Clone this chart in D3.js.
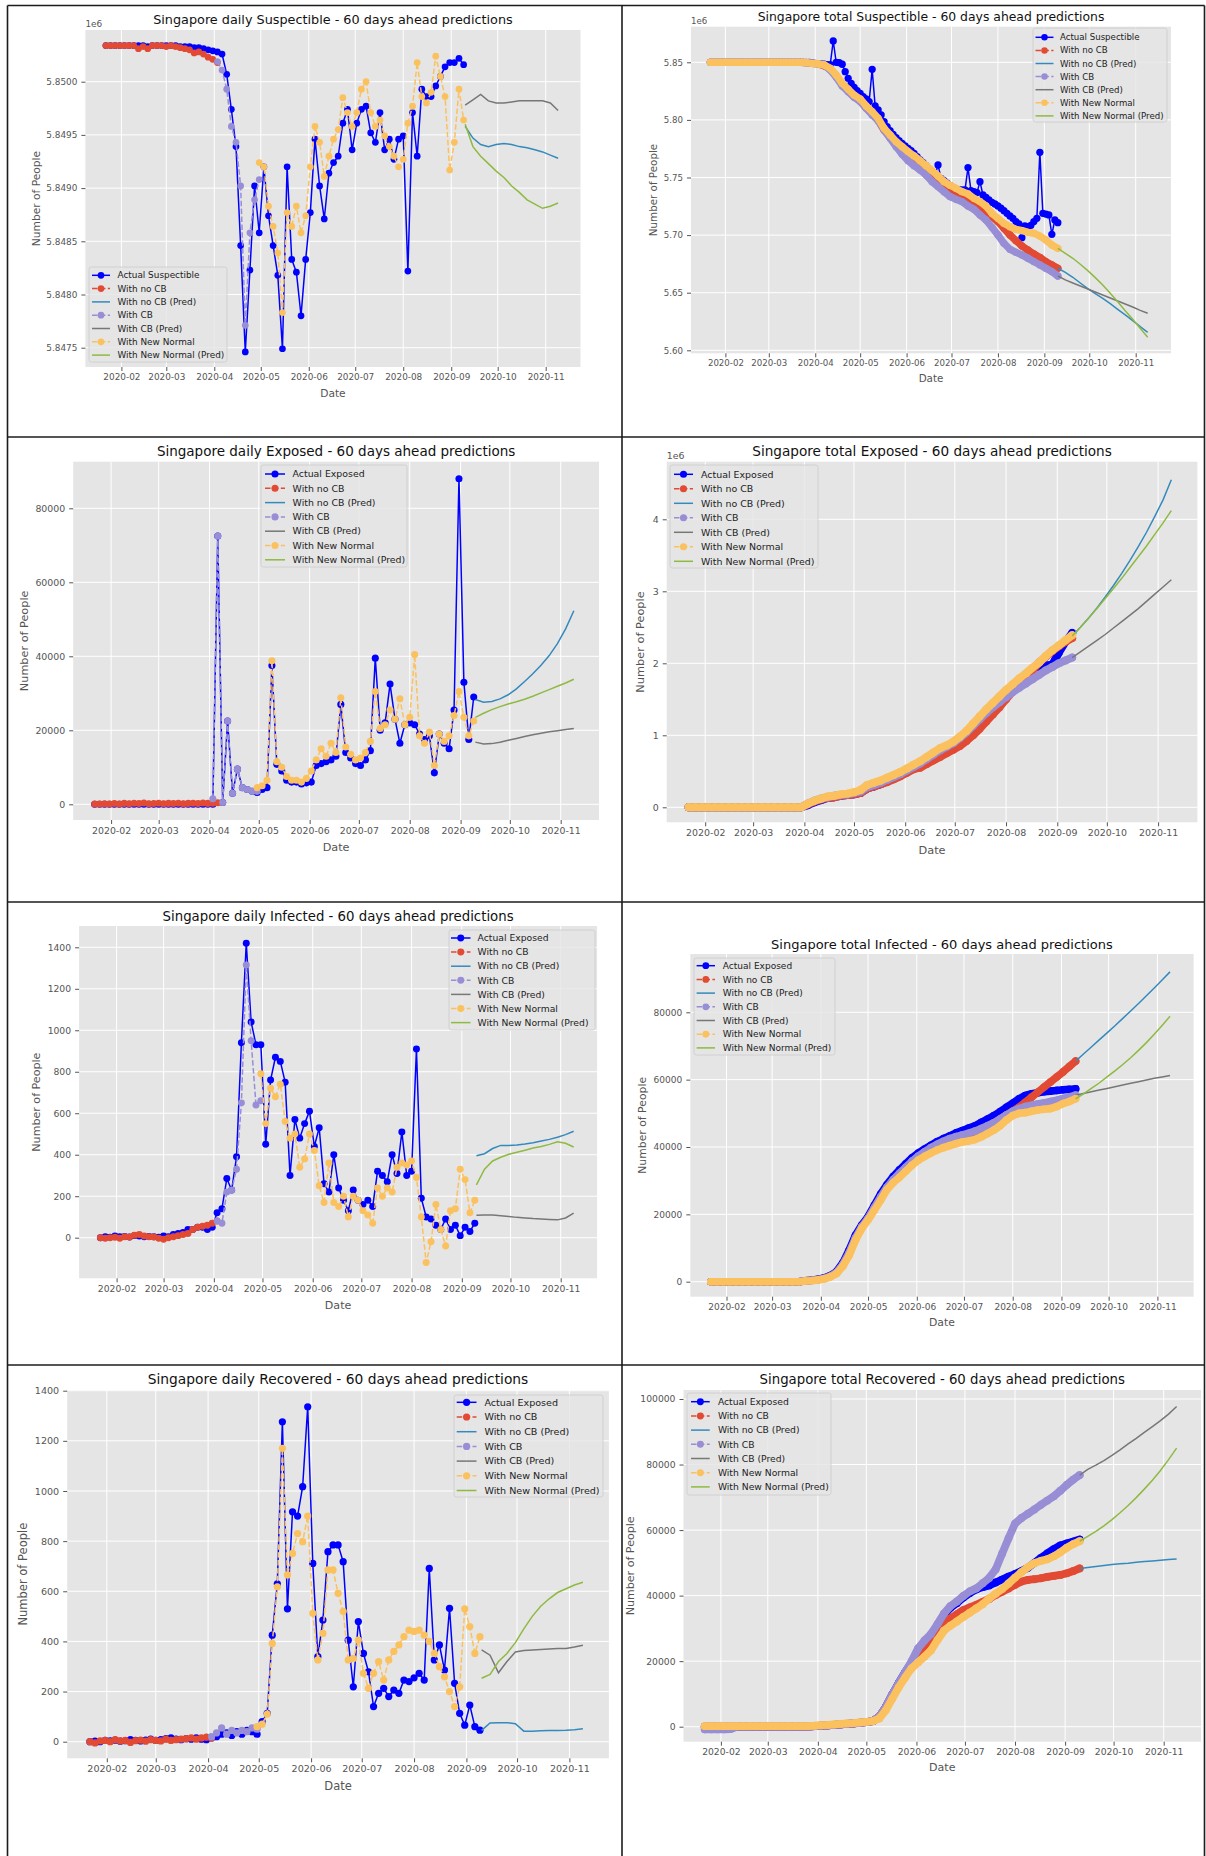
<!DOCTYPE html>
<html>
<head>
<meta charset="utf-8">
<script src="https://cdn.jsdelivr.net/npm/d3@7"></script>
<style>
  html, body { margin: 0; padding: 0; background: #ffffff; }
  svg { display: block; font-family: "DejaVu Sans", sans-serif; }
</style>
</head>
<body>
<svg id="fig" width="1206" height="1856"></svg>
<script>
// ---------- shared labels ----------
const monthTicks = ["2020-02","2020-03","2020-04","2020-05","2020-06","2020-07","2020-08","2020-09","2020-10","2020-11"];
const seriesNames = {
  noCB: "With no CB", noCBPred: "With no CB (Pred)",
  CB: "With CB", CBPred: "With CB (Pred)",
  NN: "With New Normal", NNPred: "With New Normal (Pred)"
};
// day 0 = 2020-01-22; fitted series every 2, 3 or 4 days, predictions every 5 days from 2020-09-10

// ---------- daily Suspectible (millions) ----------
const dailySusTicks = [5.8475, 5.8480, 5.8485, 5.8490, 5.8495, 5.8500];
const dailySusActual = [5.85034,5.85034,5.85034,5.85034,5.85034,5.85034,5.85034,5.85034,5.85034,5.85033,5.85034,5.85034,5.85034,5.85034,5.85034,5.85034,5.85033,5.85033,5.85033,5.85032,5.85032,5.85031,5.85030,5.85029,5.85028,5.85026,5.85007,5.84974,5.84939,5.84846,5.84746,5.84823,5.84902,5.84858,5.84920,5.84874,5.84846,5.84818,5.84749,5.84920,5.84833,5.84821,5.84780,5.84833,5.84877,5.84946,5.84902,5.84871,5.84914,5.84924,5.84930,5.84961,5.84974,5.84936,5.84961,5.84974,5.84977,5.84952,5.84943,5.84971,5.84936,5.84946,5.84927,5.84946,5.84949,5.84822,5.84971,5.84930,5.84993,5.84986,5.84986,5.84996,5.85005,5.85014,5.85018,5.85018,5.85022,5.85016];
const dailySusNoCB = [5.85034,5.85034,5.85034,5.85034,5.85034,5.85034,5.85034,5.85031,5.85033,5.85031,5.85034,5.85034,5.85034,5.85033,5.85034,5.85033,5.85032,5.85031,5.85030,5.85027,5.85028,5.85026,5.85023,5.85021,5.85018];
const dailySusCB = [5.85019,5.85011,5.84993,5.84958,5.84943,5.84902,5.84771,5.84858,5.84889,5.84908];
const dailySusNN = [5.84924,5.84920,5.84883,5.84864,5.84839,5.84783,5.84877,5.84864,5.84883,5.84858,5.84874,5.84920,5.84958,5.84943,5.84911,5.84930,5.84946,5.84955,5.84985,5.84971,5.84958,5.84971,5.84993,5.85000,5.84971,5.84958,5.84964,5.84949,5.84939,5.84930,5.84920,5.84927,5.84961,5.84977,5.85018,5.84986,5.84980,5.84990,5.85024,5.85005,5.84986,5.84917,5.84943,5.84993,5.84964];
const dailySusNoCBPred = [5.84958,5.84947,5.84941,5.84939,5.84941,5.84942,5.84941,5.84939,5.84938,5.84936,5.84934,5.84931,5.84928];
const dailySusCBPred = [5.84978,5.84983,5.84988,5.84982,5.84980,5.84980,5.84981,5.84982,5.84982,5.84982,5.84982,5.84980,5.84973];
const dailySusNNPred = [5.84960,5.84939,5.84930,5.84923,5.84916,5.84910,5.84902,5.84896,5.84889,5.84885,5.84881,5.84883,5.84886];

// ---------- total Suspectible (millions) ----------
const totalSusTicks = [5.60, 5.65, 5.70, 5.75, 5.80, 5.85];
// actual counts every 2 days
const totalSusActual = [5.8500,5.8500,5.8500,5.8500,5.8500,5.8500,5.8500,5.8500,5.8500,5.8500,5.8500,5.8500,5.8500,5.8500,5.8500,5.8500,5.8500,5.8500,5.8500,5.8500,5.8500,5.8500,5.8500,5.8500,5.8500,5.8500,5.8500,5.8500,5.8500,5.8500,5.8500,5.8500,5.8500,5.8500,
  5.8494,5.8491,5.8488,5.8486,5.8483,5.8480,5.8480,5.8685,5.8500,5.8497,5.8483,5.8419,5.8361,5.8318,5.8283,5.8254,5.8231,5.8202,5.8182,5.8159,5.8439,5.8121,5.8086,5.8043,5.7985,5.7942,5.7907,5.7875,5.7846,5.7820,5.7797,5.7774,5.7753,5.7733,5.7710,5.7681,5.7652,5.7629,5.7603,5.7571,5.7542,5.7519,5.7609,5.7493,5.7473,5.7450,5.7432,5.7415,5.7400,5.7395,5.7392,5.7392,5.7586,5.7386,5.7377,5.7369,5.7464,5.7348,5.7328,5.7305,5.7285,5.7270,5.7253,5.7233,5.7212,5.7189,5.7166,5.7146,5.7117,5.7097,5.6978,5.7079,5.7073,5.7085,5.7117,5.7146,5.7719,5.7189,5.7183,5.7175,5.7007,5.7131,5.7108];
const totalSusNoCB = [5.8500,5.8500,5.8500,5.8500,5.8500,5.8500,5.8500,5.8500,5.8500,5.8500,5.8500,5.8500,5.8500,5.8500,5.8500,5.8500,5.8497,5.8491,5.8486,5.8470,5.8440,5.8380,5.8305,5.8252,5.8202,5.8165,5.8105,5.8055,5.7995,5.7910,5.7850,5.7792,5.7750,5.7705,5.7668,5.7638,5.7594,5.7542,5.7493,5.7441,5.7398,5.7369,5.7334,5.7305,5.7276,5.7247,5.7204,5.7160,5.7117,5.7059,5.7001,5.6952,5.6906,5.6871,5.6836,5.6807,5.6770,5.6741,5.6712];
const totalSusCB = [5.8500,5.8500,5.8500,5.8500,5.8500,5.8500,5.8500,5.8500,5.8500,5.8500,5.8500,5.8500,5.8500,5.8500,5.8500,5.8500,5.8497,5.8491,5.8486,5.8477,5.8433,5.8370,5.8295,5.8245,5.8196,5.8159,5.8101,5.8043,5.7994,5.7913,5.7840,5.7768,5.7701,5.7646,5.7603,5.7565,5.7522,5.7464,5.7421,5.7377,5.7334,5.7311,5.7291,5.7253,5.7224,5.7175,5.7131,5.7068,5.7001,5.6929,5.6877,5.6851,5.6828,5.6799,5.6770,5.6741,5.6712,5.6683,5.6645];
const totalSusNN = [5.8500,5.8500,5.8500,5.8500,5.8500,5.8500,5.8500,5.8500,5.8500,5.8500,5.8500,5.8500,5.8500,5.8500,5.8500,5.8500,5.8497,5.8491,5.8486,5.8477,5.8448,5.8390,5.8318,5.8266,5.8216,5.8182,5.8121,5.8072,5.8014,5.7927,5.7869,5.7811,5.7768,5.7725,5.7687,5.7646,5.7603,5.7560,5.7513,5.7464,5.7432,5.7406,5.7377,5.7357,5.7319,5.7291,5.7253,5.7189,5.7146,5.7102,5.7073,5.7050,5.7039,5.7024,5.7016,5.6992,5.6958,5.6914,5.6885];
const totalSusNoCBPred = [5.6712,5.6676,5.6634,5.6584,5.6535,5.6492,5.6451,5.6405,5.6356,5.6307,5.6258,5.6205,5.6156];
const totalSusCBPred = [5.6645,5.6611,5.6584,5.6558,5.6532,5.6506,5.6480,5.6454,5.6428,5.6402,5.6376,5.6347,5.6321];
const totalSusNNPred = [5.6885,5.6842,5.6799,5.6747,5.6692,5.6631,5.6567,5.6495,5.6422,5.6344,5.6269,5.6191,5.6113];

// ---------- daily Exposed ----------
const dailyExpTicks = [0, 20000, 40000, 60000, 80000];
const dailyExpActual = [0,0,0,0,0,0,0,0,0,0,0,0,0,0,0,0,0,0,0,0,0,0,0,0,0,72500,500,22500,3000,9500,4500,4000,3500,3200,4000,4500,37500,10800,9000,6500,6000,6000,5500,5800,6000,10500,11000,11500,12000,13000,27000,14000,12500,11000,10500,12000,14500,39500,20000,22000,32500,23000,16500,21500,22000,21500,19000,17500,18500,8500,19000,16500,15000,25500,88000,33000,17500,29000];
const dailyExpNoCB = [100,50,150,80,200,100,250,150,300,200,350,150,200,300,150,250,200,300,150,250,300,200,350,250,300,400];
const dailyExpCB = [1500,72500,500,22500,3000,9500,4500,4000,3500,3500];
const dailyExpNN = [4500,5000,6500,38800,11500,10000,7500,6500,6500,6000,7000,9000,12000,15000,13000,16500,14000,28800,15500,13500,12000,12500,14000,17000,30500,20500,21500,25500,23000,28500,21500,23500,40500,18500,16500,19500,10500,19000,17000,18500,24000,30500,23500,18500,22500];
const dailyExpNoCBPred = [28300,27600,27800,28500,29600,31200,33200,35300,37600,40200,43400,47400,52300];
const dailyExpCBPred = [16800,16300,16400,16800,17300,17800,18300,18800,19200,19600,19900,20200,20500];
const dailyExpNNPred = [23500,24600,25600,26400,27100,27700,28400,29200,30100,31000,31900,32800,33800];

// ---------- total Exposed (millions) ----------
const totalExpTicks = [0, 1, 2, 3, 4];
const totalExpActual = [0,0,0,0,0,0,0,0,0,0,0,0,0,0,0,0,0,0,0.03,0.07,0.10,0.13,0.14,0.16,0.17,0.18,0.20,0.26,0.29,0.32,0.36,0.40,0.44,0.49,0.54,0.59,0.65,0.71,0.77,0.82,0.87,0.93,1.01,1.10,1.20,1.30,1.40,1.50,1.60,1.68,1.75,1.82,1.88,1.95,1.97,1.98,2.15,2.30,2.42];
const totalExpNoCB = [0,0,0,0,0,0,0,0,0,0,0,0,0,0,0,0,0,0,0.04,0.08,0.11,0.13,0.14,0.16,0.17,0.18,0.20,0.26,0.29,0.32,0.35,0.39,0.43,0.48,0.53,0.55,0.60,0.65,0.70,0.75,0.80,0.85,0.92,1.00,1.09,1.19,1.29,1.39,1.50,1.61,1.71,1.80,1.90,2.01,2.09,2.17,2.24,2.30,2.35];
const totalExpCB = [0,0,0,0,0,0,0,0,0,0,0,0,0,0,0,0,0,0,0.05,0.09,0.12,0.14,0.16,0.17,0.18,0.20,0.22,0.28,0.31,0.34,0.38,0.42,0.46,0.51,0.56,0.61,0.67,0.73,0.79,0.84,0.89,0.96,1.04,1.13,1.22,1.31,1.39,1.46,1.53,1.60,1.66,1.72,1.78,1.84,1.90,1.95,2.00,2.04,2.08];
const totalExpNN = [0,0,0,0,0,0,0,0,0,0,0,0,0,0,0,0,0,0,0.05,0.09,0.12,0.15,0.16,0.18,0.19,0.21,0.24,0.31,0.34,0.37,0.41,0.45,0.49,0.54,0.59,0.64,0.70,0.76,0.82,0.86,0.91,0.98,1.06,1.16,1.26,1.36,1.45,1.54,1.63,1.71,1.79,1.86,1.94,2.01,2.10,2.18,2.25,2.32,2.39];
const totalExpNoCBPred = [2.38,2.50,2.63,2.77,2.92,3.08,3.25,3.43,3.62,3.82,4.04,4.27,4.55];
const totalExpCBPred = [2.08,2.16,2.24,2.32,2.40,2.49,2.58,2.67,2.76,2.86,2.96,3.06,3.16];
const totalExpNNPred = [2.38,2.50,2.63,2.76,2.90,3.04,3.18,3.33,3.48,3.63,3.79,3.95,4.12];

// ---------- daily Infected ----------
const dailyInfTicks = [0, 200, 400, 600, 800, 1000, 1200, 1400];
const dailyInfActual = [0,5,2,8,5,6,3,10,8,4,6,5,2,8,5,15,20,25,40,40,50,50,40,50,120,140,285,230,390,940,1420,1040,930,930,450,760,870,850,750,300,570,480,550,610,440,530,260,220,400,240,180,130,230,180,160,180,150,320,300,270,400,310,510,300,320,910,190,100,90,60,40,90,40,60,10,50,30,70];
const dailyInfNoCB = [0,-3,0,2,-3,5,3,12,15,8,5,3,-3,-8,0,5,10,15,20,40,50,55,60,70,80];
const dailyInfCB = [80,70,220,230,330,650,1315,950,640,660];
const dailyInfNN = [790,550,720,680,740,560,480,500,340,380,500,420,250,170,360,170,150,200,100,200,180,130,110,70,240,200,240,220,340,360,350,370,290,100,-120,-20,160,40,-40,130,140,330,280,120,180];
const dailyInfNoCBPred = [395,405,430,445,445,447,452,458,466,474,484,497,513];
const dailyInfCBPred = [108,110,110,106,102,98,95,92,90,88,86,95,118];
const dailyInfNNPred = [255,330,370,388,402,412,422,432,440,450,462,455,437];

// ---------- total Infected ----------
const totalInfTicks = [0, 20000, 40000, 60000, 80000];
const totalInfActual = [0,0,0,0,0,0,0,0,0,0,0,0,0,0,0,300,450,700,1100,1800,3000,5600,9400,13800,16800,19300,22700,26000,28800,31200,33200,35000,36800,38200,39400,40500,41600,42500,43300,44200,44900,45600,46300,47300,48300,49300,50500,51800,53000,54300,55300,55800,56100,56400,56600,56800,57000,57100,57300];
const totalInfNoCB = [0,0,0,0,0,0,0,0,0,0,0,0,0,0,0,250,400,600,950,1600,2700,5000,8500,12800,16200,18700,21900,25000,27900,30100,31900,33700,35400,36900,38100,39200,40200,41000,41700,42300,42900,43400,44100,45000,46000,47100,48300,49500,50600,51800,53300,54800,56300,57800,59300,60800,62300,63900,65500];
const totalInfCB = [0,0,0,0,0,0,0,0,0,0,0,0,0,0,0,250,400,600,950,1600,2700,5100,8600,13000,16300,18800,22000,25100,28000,30300,32200,34000,35800,37300,38600,39800,40800,41700,42500,43100,43600,44100,44700,45500,46300,47200,48300,49500,50600,51400,52000,52400,52800,53100,53500,53900,54400,54900,55400];
const totalInfNN = [0,0,0,0,0,0,0,0,0,0,0,0,0,0,0,200,300,500,800,1400,2400,4600,7800,12300,15800,18300,21200,24200,27300,29400,31000,32800,34600,36100,37200,38200,39100,39800,40400,41000,41500,41800,42200,43000,44000,45000,46300,48000,49300,50000,50200,50600,51000,51200,51400,52000,52900,53500,54300];
const totalInfNoCBPred = [65500,67600,69700,71800,73900,76000,78200,80400,82600,84900,87200,89600,92000];
const totalInfCBPred = [55400,55900,56400,56900,57400,57900,58400,58900,59400,59900,60400,60800,61200];
const totalInfNNPred = [54300,55800,57400,59000,60800,62600,64500,66500,68700,71000,73500,76100,78800];

// ---------- daily Recovered ----------
const dailyRecTicks = [0, 200, 400, 600, 800, 1000, 1200, 1400];
const dailyRecActual = [0,2,0,5,3,6,2,4,8,5,3,6,10,5,8,12,15,10,8,12,10,15,10,8,15,20,30,35,25,40,30,45,40,30,80,113,425,630,1276,530,917,900,1017,1336,711,339,485,758,785,785,718,405,219,479,352,279,140,193,213,180,206,193,246,240,255,273,246,691,326,386,286,532,233,113,66,146,60,46];
const dailyRecNoCB = [0,-5,3,5,0,8,3,5,-3,4,6,2,8,5,3,10,5,8,10,12,15,10,15,18,15];
const dailyRecCB = [20,35,55,30,45,35,45,40,55,50];
const dailyRecNN = [60,70,110,392,618,1170,665,751,830,798,900,512,326,432,685,685,592,520,326,332,405,273,213,273,319,246,326,360,386,419,445,440,445,425,400,352,299,259,200,140,219,530,459,352,419];
const dailyRecNoCBPred = [45,75,76,76,72,42,42,44,45,45,46,48,52];
const dailyRecCBPred = [366,345,275,320,358,364,366,368,370,372,372,378,385];
const dailyRecNNPred = [253,268,320,352,395,450,500,540,570,595,610,625,636];

// ---------- total Recovered ----------
const totalRecTicks = [0, 20000, 40000, 60000, 80000, 100000];
const totalRecActual = [0,0,0,0,0,0,0,0,0,0,0,0,0,0,0,0,0,200,300,400,550,700,850,1000,1200,1400,1700,3000,6000,9800,13300,16600,19500,23400,25800,27800,30800,34000,36300,37700,39400,40800,41900,42600,43100,44000,44900,45800,46600,47500,48500,50000,51500,52900,54200,55300,55900,56500,57100];
const totalRecNoCB = [0,0,0,0,0,0,0,0,0,0,0,0,0,0,0,0,0,200,300,400,550,700,850,1000,1200,1400,1700,3000,6000,9700,13000,16300,19000,21500,23200,25500,29000,31400,33000,34300,35600,36400,37200,38100,39000,40200,41200,42200,43300,44300,44800,45000,45300,45700,46000,46300,46800,47500,48300];
const totalRecCB = [-800,-800,-800,-800,-700,0,0,0,0,0,0,0,0,0,0,0,0,200,300,400,550,700,850,1000,1200,1400,1700,3000,6000,9800,13300,16600,20000,23900,26300,28300,31300,34500,36800,38200,39900,41300,42200,43800,45400,48000,52800,57500,62000,63700,65000,66300,67700,69000,70300,72000,73800,75400,76800];
const totalRecNN = [200,200,200,200,200,200,200,200,200,200,200,200,200,200,200,200,200,300,450,550,700,850,1000,1100,1300,1500,1700,2500,5000,8500,12000,15000,17800,19600,21400,23300,26400,29300,30800,32100,33500,34800,36100,37400,39100,40600,42000,43700,45500,47200,48700,49900,50600,51100,52000,53200,54600,55700,56600];
const totalRecNoCBPred = [48300,48600,48900,49200,49500,49700,49900,50200,50400,50600,50800,51000,51200];
const totalRecCBPred = [76800,78500,79800,81200,82800,84500,86300,88000,89800,91600,93400,95400,97700];
const totalRecNNPred = [56600,58100,59600,61300,63200,65300,67500,69900,72500,75200,78200,81500,85000];

// ---------- drawing ----------
const COLORS = { actual: "#0000ff", noCB: "#E24A33", noCBPred: "#348ABD", CB: "#988ED5", CBPred: "#777777", NN: "#FBC15E", NNPred: "#8EBA42" };
const ORDER = ["actual", "noCB", "noCBPred", "CB", "CBPred", "NN", "NNPred"];
const WITH_MARKERS = { actual: true, noCB: true, CB: true, NN: true };
const DASHED = { noCB: true, CB: true, NN: true };
const PRED_START = 232, PRED_STEP = 5;

function dailySet(a, n, np, c, cp, nn, nnp) {
  return { actual: [0, 3, a], noCB: [0, 3, n], noCBPred: [PRED_START, PRED_STEP, np],
           CB: [72, 3, c], CBPred: [PRED_START, PRED_STEP, cp], NN: [99, 3, nn], NNPred: [PRED_START, PRED_STEP, nnp] };
}
function totalSet(a, aStep, n, np, c, cp, nn, nnp) {
  return { actual: [0, aStep, a], noCB: [0, 4, n], noCBPred: [PRED_START, PRED_STEP, np],
           CB: [0, 4, c], CBPred: [PRED_START, PRED_STEP, cp], NN: [0, 4, nn], NNPred: [PRED_START, PRED_STEP, nnp] };
}

const panels = [
  { title: "Singapore daily Suspectible - 60 days ahead predictions", actualName: "Actual Suspectible",
    data: dailySet(dailySusActual, dailySusNoCB, dailySusNoCBPred, dailySusCB, dailySusCBPred, dailySusNN, dailySusNNPred),
    ticks: dailySusTicks, fmt: ".4f", offset: "1e6", cumulative: false,
    box: [85.4, 580.5, 30, 367], xAt: [121.4, 545.7], yAt: [[5.8500, 81.7], [5.8475, 347.7]],
    font: 12.8, titleY: 20, xLabelY: 393, yLabelX: 36, offsetY: 24,
    legend: [89, 267, 138, 95, 92, 110, 117.5, 275.3, 13.3] },
  { title: "Singapore total Suspectible - 60 days ahead predictions", actualName: "Actual Suspectible",
    data: totalSet(totalSusActual, 2, totalSusNoCB, totalSusNoCBPred, totalSusCB, totalSusCBPred, totalSusNN, totalSusNNPred),
    ticks: totalSusTicks, fmt: ".2f", offset: "1e6", cumulative: true, actualBand: false,
    box: [691, 1171, 26.7, 353.3], xAt: [725.4, 1135.7], yAt: [[5.85, 62.3], [5.60, 350.3]],
    font: 12.4, titleY: 17, xLabelY: 378.3, yLabelX: 653.6, offsetY: 20.7,
    legend: [1033, 28, 134, 94, 1035.5, 1053.5, 1060, 37.3, 13.1] },
  { title: "Singapore daily Exposed - 60 days ahead predictions", actualName: "Actual Exposed",
    data: dailySet(dailyExpActual, dailyExpNoCB, dailyExpNoCBPred, dailyExpCB, dailyExpCBPred, dailyExpNN, dailyExpNNPred),
    ticks: dailyExpTicks, fmt: "d", offset: null, cumulative: false,
    box: [73.2, 599, 461.7, 820], xAt: [111.1, 560.7], yAt: [[0, 804.3], [80000, 508.3]],
    font: 13.5, titleY: 451, xLabelY: 847, yLabelX: 23.7,
    legend: [261, 465, 146, 102, 265, 285, 292.6, 474, 14.3] },
  { title: "Singapore total Exposed - 60 days ahead predictions", actualName: "Actual Exposed",
    data: totalSet(totalExpActual, 4, totalExpNoCB, totalExpNoCBPred, totalExpCB, totalExpCBPred, totalExpNN, totalExpNNPred),
    ticks: totalExpTicks, fmt: "d", offset: "1e6", cumulative: true, actualBand: true,
    box: [666.7, 1197.4, 461.7, 822.3], xAt: [705.2, 1158.1], yAt: [[0, 807.3], [4, 519.3]],
    font: 13.6, titleY: 451, xLabelY: 850, yLabelX: 640.5, offsetY: 455.7,
    legend: [670, 465, 148, 103, 674, 693, 701, 474.3, 14.5] },
  { title: "Singapore daily Infected - 60 days ahead predictions", actualName: "Actual Exposed",
    data: dailySet(dailyInfActual, dailyInfNoCB, dailyInfNoCBPred, dailyInfCB, dailyInfCBPred, dailyInfNN, dailyInfNNPred),
    ticks: dailyInfTicks, fmt: "d", offset: null, cumulative: false,
    box: [79.1, 597.1, 926, 1278.3], xAt: [116.6, 560.7], yAt: [[0, 1237.7], [1400, 947.3]],
    font: 13.3, titleY: 916, xLabelY: 1305, yLabelX: 36.4,
    legend: [449, 930, 146, 100, 451, 470.5, 477.6, 938, 14.1] },
  { title: "Singapore total Infected - 60 days ahead predictions", actualName: "Actual Exposed",
    data: totalSet(totalInfActual, 4, totalInfNoCB, totalInfNoCBPred, totalInfCB, totalInfCBPred, totalInfNN, totalInfNNPred),
    ticks: totalInfTicks, fmt: "d", offset: null, cumulative: true, actualBand: true,
    box: [690.3, 1193.6, 954, 1296.7], xAt: [726.5, 1157.4], yAt: [[0, 1281.7], [80000, 1012.3]],
    font: 13.0, titleY: 944, xLabelY: 1322.3, yLabelX: 642.4,
    legend: [694, 958, 141, 97, 696.6, 715, 722.8, 965.7, 13.7] },
  { title: "Singapore daily Recovered - 60 days ahead predictions", actualName: "Actual Exposed",
    data: dailySet(dailyRecActual, dailyRecNoCB, dailyRecNoCBPred, dailyRecCB, dailyRecCBPred, dailyRecNN, dailyRecNNPred),
    ticks: dailyRecTicks, fmt: "d", offset: null, cumulative: false,
    box: [67.2, 608.9, 1390, 1758.3], xAt: [106.8, 569.4], yAt: [[0, 1741.7], [1400, 1390.7]],
    font: 13.8, titleY: 1379, xLabelY: 1785.7, yLabelX: 22.5,
    legend: [454, 1395, 149, 102, 456.7, 476.5, 484.4, 1402.3, 14.7] },
  { title: "Singapore total Recovered - 60 days ahead predictions", actualName: "Actual Exposed",
    data: totalSet(totalRecActual, 4, totalRecNoCB, totalRecNoCBPred, totalRecCB, totalRecCBPred, totalRecNN, totalRecNNPred),
    ticks: totalRecTicks, fmt: "d", offset: null, cumulative: true, actualBand: true,
    box: [683.5, 1201, 1390, 1741.7], xAt: [720.9, 1163.7], yAt: [[0, 1726.7], [100000, 1399]],
    font: 13.3, titleY: 1379.3, xLabelY: 1767.3, yLabelX: 630.5,
    legend: [687, 1393, 144, 102, 691, 709.7, 717.9, 1401.7, 14.2] }
];

const FONT = "DejaVu Sans, sans-serif";
const svg = d3.select("#fig");
const dayDate = d => new Date(2020, 0, 22 + d);
const monthDates = d3.range(1, 11).map(m => new Date(2020, m, 1));

// page frame
const frame = svg.append("g").attr("stroke", "#1c1c1c").attr("stroke-width", 1.6);
[[7.5, 5.5, 7.5, 1856], [1204.5, 5.5, 1204.5, 1856], [7.5, 5.5, 1204.5, 5.5], [622, 5.5, 622, 1856],
 [7.5, 437, 1204.5, 437], [7.5, 902, 1204.5, 902], [7.5, 1365, 1204.5, 1365]]
  .forEach(([x1, y1, x2, y2]) => frame.append("line").attr("x1", x1).attr("y1", y1).attr("x2", x2).attr("y2", y2));

panels.forEach((p, i) => {
  const [L, R, T, B] = p.box;
  const f = p.font / 1.44;
  const r = (p.cumulative ? 3.8 : 3.4) * f / 9;
  const x = d3.scaleTime().domain([new Date(2020, 1, 1), new Date(2020, 10, 1)]).range(p.xAt);
  const y = d3.scaleLinear().domain([p.yAt[0][0], p.yAt[1][0]]).range([p.yAt[0][1], p.yAt[1][1]]);
  const g = svg.append("g");

  g.append("rect").attr("x", L).attr("y", T).attr("width", R - L).attr("height", B - T).attr("fill", "#E5E5E5");

  // grid
  const grid = g.append("g").attr("stroke", "#ffffff").attr("stroke-width", 1);
  monthDates.forEach(d => grid.append("line").attr("x1", x(d)).attr("x2", x(d)).attr("y1", T).attr("y2", B));
  p.ticks.forEach(v => grid.append("line").attr("x1", L).attr("x2", R).attr("y1", y(v)).attr("y2", y(v)));

  // axes
  const xa = g.append("g").attr("transform", `translate(0,${B})`)
    .call(d3.axisBottom(x).tickValues(monthDates).tickFormat((d, k) => monthTicks[k]).tickSize(4).tickPadding(3));
  const ya = g.append("g").attr("transform", `translate(${L},0)`)
    .call(d3.axisLeft(y).tickValues(p.ticks).tickFormat(d3.format(p.fmt)).tickSize(4).tickPadding(4));
  [xa, ya].forEach(a => {
    a.attr("font-family", FONT).attr("font-size", f);
    a.select(".domain").remove();
    a.selectAll(".tick line").attr("stroke", "#555555");
    a.selectAll(".tick text").attr("fill", "#555555");
  });

  // plotted series
  const cid = "plotclip" + i;
  g.append("clipPath").attr("id", cid).append("rect").attr("x", L).attr("y", T).attr("width", R - L).attr("height", B - T);
  const plot = g.append("g").attr("clip-path", `url(#${cid})`);
  const line = d3.line().x(d => x(d[0])).y(d => y(d[1]));
  ORDER.forEach(key => {
    const [start, step, vals] = p.data[key];
    const pts = vals.map((v, k) => [dayDate(start + k * step), v]);
    // cumulative curves: closely packed markers read as one continuous band
    if (p.cumulative && WITH_MARKERS[key] && (key !== "actual" || p.actualBand)) {
      plot.append("path").attr("d", line(pts)).attr("fill", "none")
        .attr("stroke", COLORS[key]).attr("stroke-width", 2 * r)
        .attr("stroke-linejoin", "round").attr("stroke-linecap", "round");
    }
    plot.append("path").attr("d", line(pts)).attr("fill", "none")
      .attr("stroke", COLORS[key]).attr("stroke-width", 1.5)
      .attr("stroke-dasharray", DASHED[key] ? "5.5,2.4" : null);
    if (WITH_MARKERS[key]) {
      plot.append("g").selectAll("circle").data(pts).join("circle")
        .attr("cx", d => x(d[0])).attr("cy", d => y(d[1])).attr("r", r).attr("fill", COLORS[key]);
    }
  });

  // texts
  const cx = (L + R) / 2;
  g.append("text").attr("x", cx).attr("y", p.titleY).attr("dy", "0.35em").attr("text-anchor", "middle")
    .attr("font-family", FONT).attr("font-size", p.font).attr("fill", "#111").text(p.title);
  g.append("text").attr("x", cx).attr("y", p.xLabelY).attr("dy", "0.35em").attr("text-anchor", "middle")
    .attr("font-family", FONT).attr("font-size", f * 1.2).attr("fill", "#555555").text("Date");
  g.append("text").attr("transform", `translate(${p.yLabelX},${(T + B) / 2}) rotate(-90)`).attr("dy", "0.35em")
    .attr("text-anchor", "middle").attr("font-family", FONT).attr("font-size", f * 1.2).attr("fill", "#555555")
    .text("Number of People");
  if (p.offset) {
    g.append("text").attr("x", L).attr("y", p.offsetY).attr("dy", "0.35em")
      .attr("font-family", FONT).attr("font-size", f).attr("fill", "#555555").text(p.offset);
  }

  // legend
  const [bx, by, bw, bh, hx1, hx2, tx, ry0, rdy] = p.legend;
  const lr = 3.4 * f / 9;
  const lg = g.append("g");
  lg.append("rect").attr("x", bx).attr("y", by).attr("width", bw).attr("height", bh).attr("rx", 2.5)
    .attr("fill", "#E5E5E5").attr("fill-opacity", 0.8).attr("stroke", "#cccccc").attr("stroke-width", 0.8);
  ORDER.forEach((key, k) => {
    const yy = ry0 + k * rdy;
    lg.append("line").attr("x1", hx1).attr("x2", hx2).attr("y1", yy).attr("y2", yy)
      .attr("stroke", COLORS[key]).attr("stroke-width", 1.5)
      .attr("stroke-dasharray", DASHED[key] ? "5.5,2.4" : null);
    if (WITH_MARKERS[key]) {
      lg.append("circle").attr("cx", (hx1 + hx2) / 2).attr("cy", yy).attr("r", lr).attr("fill", COLORS[key]);
    }
    lg.append("text").attr("x", tx).attr("y", yy).attr("dy", "0.35em")
      .attr("font-family", FONT).attr("font-size", f).attr("fill", "#222")
      .text(key === "actual" ? p.actualName : seriesNames[key]);
  });
});
</script>
</body>
</html>
